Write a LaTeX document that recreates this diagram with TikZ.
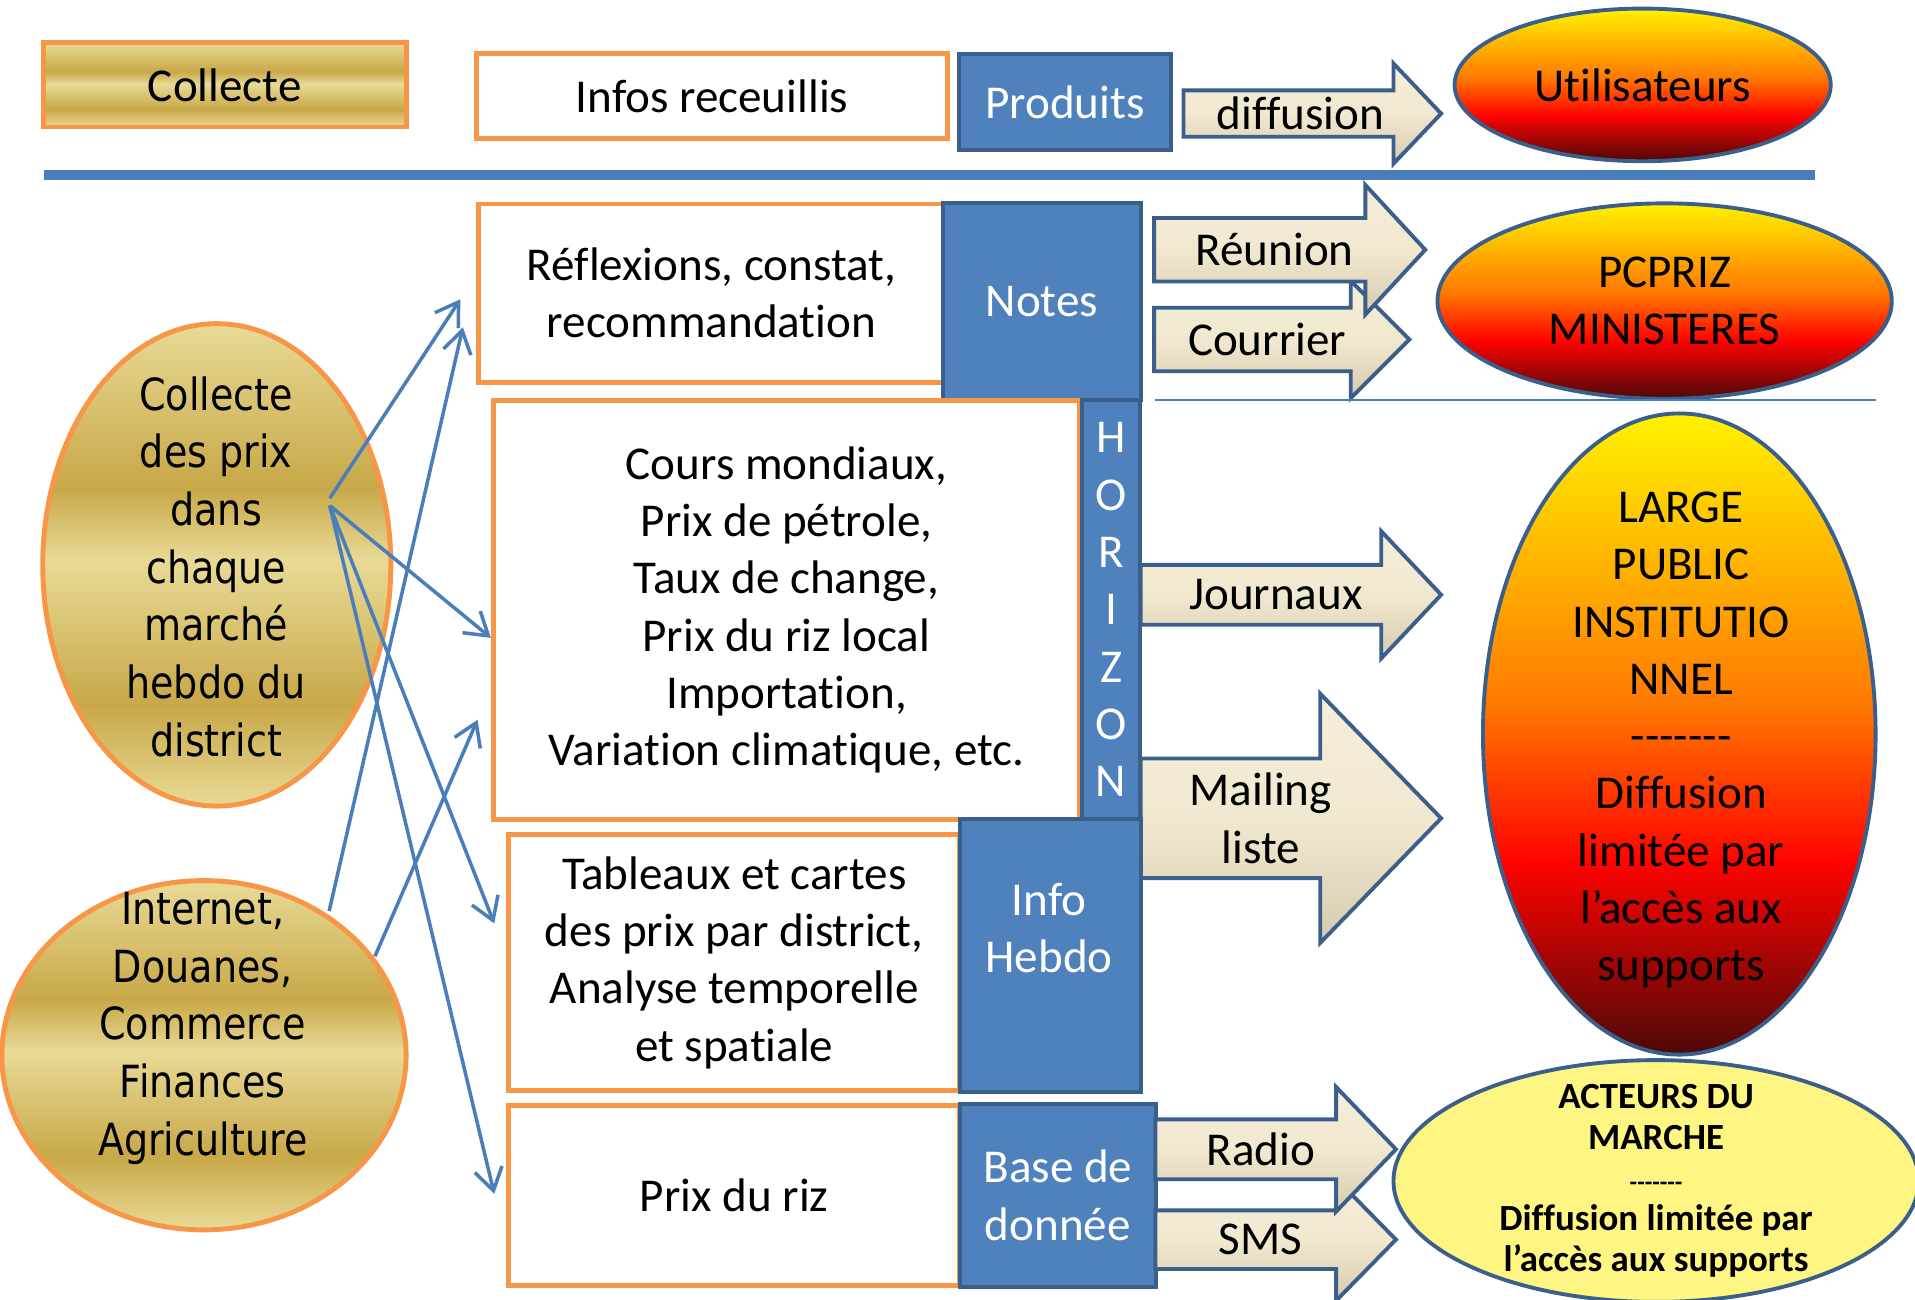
\documentclass[tikz,border=0pt]{standalone}
\usepackage{fontspec}
\setmainfont{Carlito}[Ligatures=NoCommon]
\newfontfamily\tahomalike[FakeStretch=0.86]{DejaVu Sans}
\usetikzlibrary{arrows.meta,calc,shapes.geometric}

\definecolor{orgline}{HTML}{F79646}
\definecolor{bluefill}{HTML}{4F81BD}
\definecolor{blueline}{HTML}{3A5F8B}
\definecolor{linkblue}{HTML}{4A7EBB}
\definecolor{goldlt}{HTML}{E8DA96}
\definecolor{golddk}{HTML}{C8A848}
\definecolor{fireyl}{HTML}{FFF200}
\definecolor{fireor}{HTML}{FF7A00}
\definecolor{firerd}{HTML}{FF0300}
\definecolor{firedk}{HTML}{4D0808}
\definecolor{creamlt}{HTML}{F7EEDA}
\definecolor{creammd}{HTML}{F1E8D0}
\definecolor{creamdk}{HTML}{D6CBAD}
\definecolor{paleyel}{HTML}{FEF583}

\pgfdeclareverticalshading{goldsh}{100bp}{color(0bp)=(goldlt); color(25bp)=(goldlt); color(35.5bp)=(golddk); color(50.5bp)=(goldlt); color(58bp)=(golddk); color(75bp)=(goldlt); color(100bp)=(goldlt)}
\pgfdeclareverticalshading{firesh}{100bp}{color(0bp)=(firedk); color(25bp)=(firedk); color(40bp)=(firerd); color(52.5bp)=(fireor); color(75bp)=(fireyl); color(100bp)=(fireyl)}

\newcommand{\pxu}{0.12213mm}
\newcommand{\bodyfont}{\fontsize{13.4}{16.3}\selectfont}
\newcommand{\dashrule}{-\kern0pt-\kern0pt-\kern0pt-\kern0pt-\kern0pt-\kern0pt-}
\newcommand{\blockarrow}[8]{%
  \draw[blockarr] (#2,#5-#6) -- (#3,#5-#6) -- (#3,#5-#7) -- (#4,#5)
    -- (#3,#5+#7) -- (#3,#5+#6) -- (#2,#5+#6) -- cycle;
  \node[arrtext] (#1) at ({(#2+#3)/2+(#4-#3)/4},#5) {#8};}

\begin{document}
\begin{tikzpicture}[x=0.12213mm, y=-0.12213mm, >={Straight Barb[length=2.2mm,width=2.8mm]},
    every node/.style={font=\bodyfont, inner sep=0pt},
    wh/.style 2 args={minimum width=#1*\pxu, minimum height=#2*\pxu},
    obox/.style={draw=orgline, line width=1.4pt, fill=white, align=center},
    gbox/.style={draw=orgline, line width=1.4pt, shade, shading=goldsh},
    bluebox/.style={draw=blueline, line width=1.1pt, fill=bluefill, text=white, align=center},
    fireell/.style={ellipse, draw=blueline, line width=1.1pt, shade, shading=firesh, align=center},
    goldell/.style={ellipse, draw=orgline, line width=1.4pt, shade, shading=goldsh},
    blockarr/.style={draw=blueline, line width=1.1pt, top color=creamlt, bottom color=creamdk, middle color=creammd},
    arrtext/.style={align=center},
    elltext/.style={font=\tahomalike\fontsize{12.6}{16.4}\selectfont, align=center},
    link/.style={->, draw=linkblue, line width=1pt}]
  \path[use as bounding box, clip] (0,0) rectangle (1568,1064);
  \fill[white] (0,0) rectangle (1568,1064);

  \node[gbox, wh={297}{69}] (collecte) at (184,69.5) {Collecte};
  \node[obox, wh={385}{70}] (infos) at (583,78.5) {Infos receuillis};
  \node[bluebox, wh={174}{79}] (produits) at (872,83.5) {Produits};
  \blockarrow{diffusion}{969}{1141}{1180}{93}{19}{41}{diffusion}
  \node[fireell, wh={308}{125}] (utilis) at (1345,69.5) {Utilisateurs};
  \draw[linkblue, line width=2.8pt] (36,143) -- (1486,143);

  \node[obox, wh={381}{146}] (refl) at (582.5,240) {Réflexions, constat,\\recommandation};
  \node[bluebox, wh={162}{161}] (notes) at (853,247) {Notes};
  \blockarrow{courrier}{945}{1106}{1154}{278}{26}{48}{Courrier}
  \blockarrow{reunion}{945}{1118}{1167}{204.5}{26}{53}{Réunion}
  \node[fireell, wh={372}{160}] (pcpriz) at (1363,246.5) {PCPRIZ\\MINISTERES};
  \draw[linkblue, line width=0.6pt] (946,327.5) -- (1536,327.5);

  \node[obox, wh={480}{343}] (cours) at (644,499.3) {Cours mondiaux,\\Prix de pétrole,\\Taux de change,\\Prix du riz local\\Importation,\\Variation climatique, etc.};
  \node[bluebox, wh={47.5}{343.4}] (horizon) at (909.75,499.2) {H\\O\\R\\I\\Z\\O\\N};
  \blockarrow{journaux}{934}{1131}{1180}{487}{24.5}{52}{Journaux}
  \blockarrow{mailing}{934}{1081}{1180}{670}{49}{102}{Mailing\\liste}
  \node[fireell, wh={321.5}{525}] (large) at (1375,601) {};
  \node[align=center] (largetxt) at (1376.5,606) {LARGE\\PUBLIC\\INSTITUTIO\\NNEL\\\dashrule\\Diffusion\\limitée par\\l’accès aux\\supports};

  \node[obox, wh={369}{209}] (tabl) at (601.2,788.1) {Tableaux et cartes\\des prix par district,\\Analyse temporelle\\et spatiale};
  \node[bluebox, wh={148.6}{223}] (hebdo) at (860,782.4) {};
  \node[text=white, align=center] (hebdotxt) at (859,760) {Info\\Hebdo};
  \node[obox, wh={369}{147.4}] (prixriz) at (601.2,978.5) {Prix du riz};
  \node[bluebox, wh={161}{149.5}] (basedon) at (866.2,978.8) {Base de\\donnée};
  \blockarrow{sms}{946}{1094}{1143}{1015}{24}{50}{SMS}
  \blockarrow{radio}{946}{1094}{1143}{941}{24.5}{51}{Radio}
  \node[ellipse, draw=blueline, line width=1.1pt, fill=paleyel, wh={430}{198}] (acteurs) at (1356,967) {};
  \node[align=center, font=\bfseries\fontsize{10.5}{11.6}\selectfont] (acteurstxt) at (1356,967) {ACTEURS DU\\MARCHE\\{\fontsize{7}{8}\selectfont\dashrule}\\Diffusion limitée par\\l’accès aux supports};

  \node[goldell, wh={285}{395}] (collprix) at (177.5,462.5) {};
  \node[elltext] (collprixtxt) at (177,464) {Collecte\\des prix\\dans\\chaque\\marché\\hebdo du\\district};
  \node[goldell, wh={331}{286}] (internet) at (167,864) {};
  \node[elltext] (internettxt) at (166,842) {Internet,\\Douanes,\\Commerce\\Finances\\Agriculture};

  \coordinate (srcprix) at (270,408); \coordinate (srcprixb) at (270,414);
  \coordinate (srcnet) at (269.5,746); \coordinate (srcnetb) at (307,783);
  \draw[link] (srcprix) -- ($(refl.west)+(-13,5)$);
  \draw[link] (srcprixb) -- ($(cours.west)+(0,23)$);
  \draw[link] (srcprixb) -- ($(tabl.west)+(-10,-32)$);
  \draw[link] (srcprixb) -- ($(prixriz.west)+(-10,-1)$);
  \draw[link] (srcnet) -- ($(refl.west)+(-11,28)$);
  \draw[link] (srcnetb) -- ($(cours.west)+(-11,90)$);
\end{tikzpicture}
\end{document}
